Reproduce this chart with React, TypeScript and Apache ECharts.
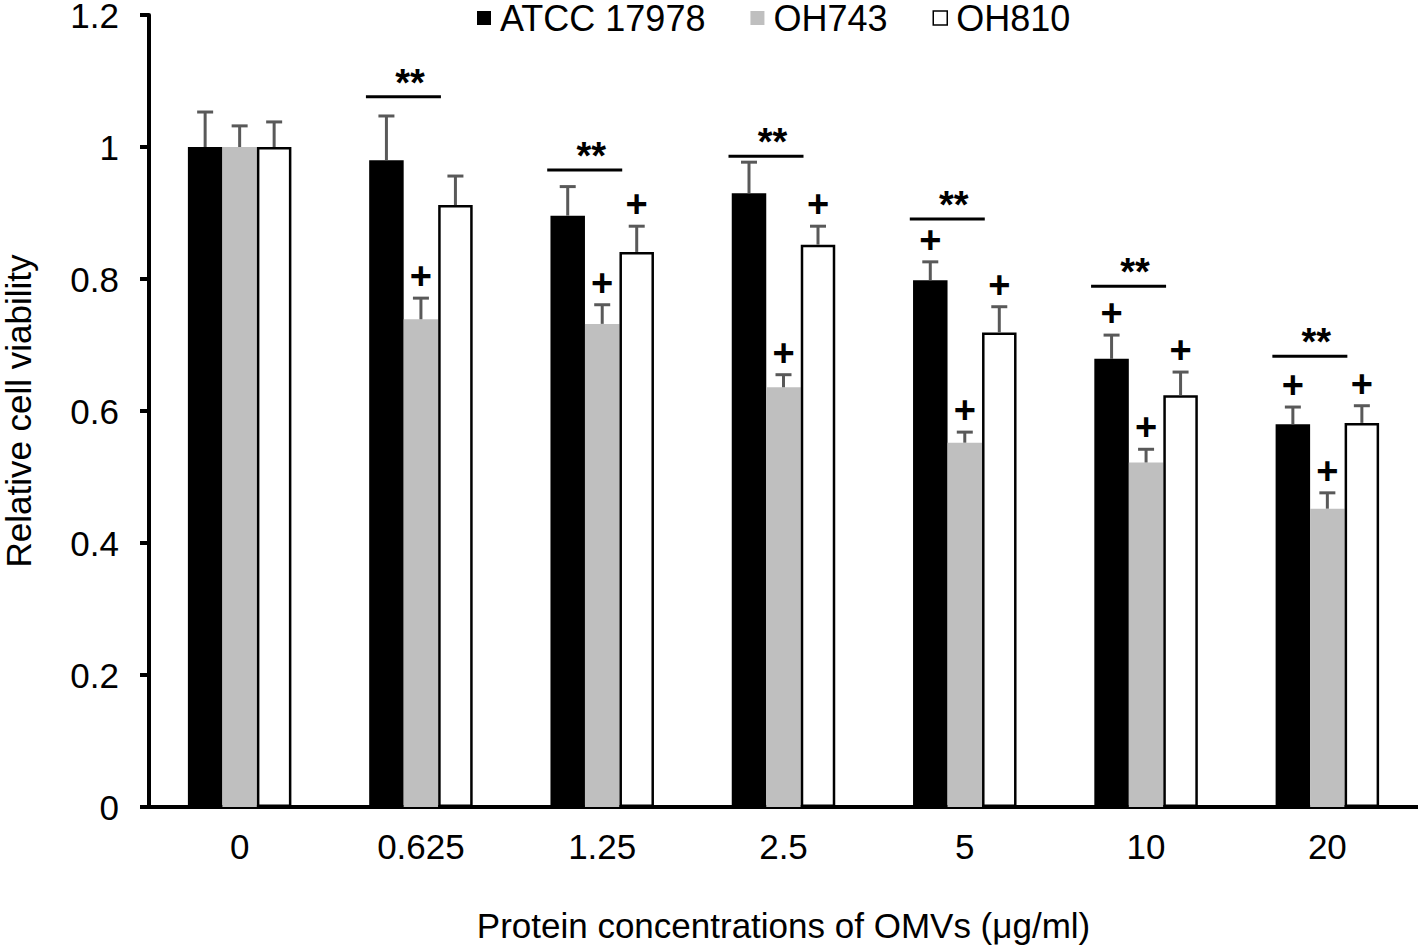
import React, { useEffect, useRef } from 'react';
import * as echarts from 'echarts';

const categories = ['0', '0.625', '1.25', '2.5', '5', '10', '20'];
const seriesNames = ['ATCC 17978', 'OH743', 'OH810'];
const atcc = [1.0, 0.98, 0.896, 0.93, 0.798, 0.679, 0.58];
const atccErr = [0.053, 0.067, 0.044, 0.047, 0.028, 0.036, 0.026];
const oh743 = [1.0, 0.739, 0.732, 0.636, 0.552, 0.522, 0.452];
const oh743Err = [0.032, 0.032, 0.029, 0.019, 0.016, 0.02, 0.024];
const oh810 = [1.0, 0.912, 0.841, 0.852, 0.719, 0.624, 0.582];
const oh810Err = [0.038, 0.044, 0.039, 0.028, 0.039, 0.035, 0.026];
// "+" significance flags per bar (1 = shown)
const atccPlus = [0, 0, 0, 0, 1, 1, 1];
const oh743Plus = [0, 1, 1, 1, 1, 1, 1];
const oh810Plus = [0, 0, 1, 1, 1, 1, 1];
// "**" bracket heights (value units), null = none
const sigLine = [null, 1.076, 0.965, 0.986, 0.891, 0.789, 0.683];
const yTicks = [0, 0.2, 0.4, 0.6, 0.8, 1, 1.2];

const FONT = "'Liberation Sans', Arial, Helvetica, sans-serif";
const BAR_W = 34.5;

export default function App() {
  const ref = useRef<HTMLDivElement>(null);
  useEffect(() => {
    const chart = echarts.init(ref.current!, null, { renderer: 'svg' });
    const values = [atcc, oh743, oh810];
    const errs = [atccErr, oh743Err, oh810Err];
    const pluses = [atccPlus, oh743Plus, oh810Plus];
    const colors = ['#000000', '#bfbfbf', '#ffffff'];

    const barSeries = seriesNames.map((name, s) => ({
      name,
      type: 'bar',
      data: values[s],
      barWidth: BAR_W,
      barGap: '0%',
      itemStyle: {
        color: colors[s],
        borderColor: s === 2 ? '#000' : colors[s],
        borderWidth: s === 2 ? 2.5 : 0,
      },
      z: 2,
    }));

    const errSeries = seriesNames.map((name, s) => ({
      name: name + ' err',
      type: 'custom',
      z: 3,
      data: values[s].map((v, i) => [i, v, errs[s][i], pluses[s][i]]),
      encode: { x: 0, y: 1 },
      renderItem: (params: any, api: any) => {
        const i = api.value(0);
        const v = api.value(1);
        const e = api.value(2);
        const p = api.value(3);
        const base = api.coord([i, v]);
        const top = api.coord([i, v + e]);
        const x = base[0] + (s - 1) * BAR_W;
        const children: any[] = [
          { type: 'line', shape: { x1: x, y1: base[1], x2: x, y2: top[1] }, style: { stroke: '#595959', lineWidth: 3 } },
          { type: 'line', shape: { x1: x - 8, y1: top[1], x2: x + 8, y2: top[1] }, style: { stroke: '#595959', lineWidth: 3 } },
        ];
        if (p) {
          children.push({
            type: 'text',
            x,
            y: top[1] - 22,
            style: { text: '+', fontSize: 38, fontWeight: 'bold', fontFamily: FONT, fill: '#000', align: 'center', verticalAlign: 'middle' },
          });
        }
        return { type: 'group', children };
      },
    }));

    const sigSeries = {
      name: 'sig',
      type: 'custom',
      z: 3,
      data: sigLine.map((v, i) => [i, v == null ? '-' : v]),
      encode: { x: 0, y: 1 },
      renderItem: (params: any, api: any) => {
        const i = api.value(0);
        const v = api.value(1);
        if (isNaN(v)) return null;
        const pt = api.coord([i, v]);
        const c = pt[0];
        return {
          type: 'group',
          children: [
            { type: 'line', shape: { x1: c - 55, y1: pt[1], x2: c + 20, y2: pt[1] }, style: { stroke: '#000', lineWidth: 3 } },
            {
              type: 'text', x: c - 11, y: pt[1] - 14,
              style: { text: '**', fontSize: 38, fontWeight: 'bold', fontFamily: FONT, fill: '#000', align: 'center', verticalAlign: 'middle' },
            },
          ],
        };
      },
    };

    chart.setOption({
      animation: false,
      backgroundColor: '#fff',
      textStyle: { fontFamily: FONT },
      grid: { left: 149, right: 0, top: 15, bottom: 141, containLabel: false, outerBoundsMode: 'none' },
      legend: {
        data: seriesNames.map((n, s) => ({
          name: n,
          itemStyle: { color: colors[s], borderColor: '#000', borderWidth: s === 2 ? 1.5 : 0 },
        })),
        left: 477,
        top: 0,
        padding: 0,
        icon: 'rect',
        itemWidth: 14,
        itemHeight: 14,
        itemGap: 45,
        textStyle: { fontSize: 36, lineHeight: 32, color: '#000', fontFamily: FONT, padding: [0, 0, 0, 4] },
      },
      xAxis: {
        type: 'category',
        data: categories,
        axisLine: { lineStyle: { color: '#000', width: 4 } },
        axisTick: { show: false },
        axisLabel: { fontSize: 35, color: '#000', margin: 22, fontFamily: FONT },
        name: 'Protein concentrations of OMVs (μg/ml)',
        nameLocation: 'middle',
        nameGap: 101,
        nameTextStyle: { fontSize: 35, color: '#000', fontFamily: FONT },
      },
      yAxis: {
        type: 'value',
        min: 0,
        max: 1.2,
        interval: 0.2,
        axisLine: { show: true, lineStyle: { color: '#000', width: 4 } },
        axisTick: { show: true, length: 9, lineStyle: { color: '#000', width: 4 } },
        splitLine: { show: false },
        axisLabel: {
          fontSize: 35, lineHeight: 26, padding: [2, 0, 0, 0], color: '#000', margin: 30, fontFamily: FONT,
          formatter: (v: number) => {
            const t = yTicks.find((x) => Math.abs(x - v) < 1e-9);
            return t === undefined ? '' : String(t);
          },
        },
        name: 'Relative cell viability',
        nameLocation: 'middle',
        nameGap: 114,
        nameTextStyle: { fontSize: 35, lineHeight: 34, color: '#000', fontFamily: FONT },
      },
      series: [...barSeries, ...errSeries, sigSeries],
    });
    return () => chart.dispose();
  }, []);
  return <div ref={ref} style={{ position: 'fixed', left: 0, top: 0, width: 1418, height: 948 }} />;
}
